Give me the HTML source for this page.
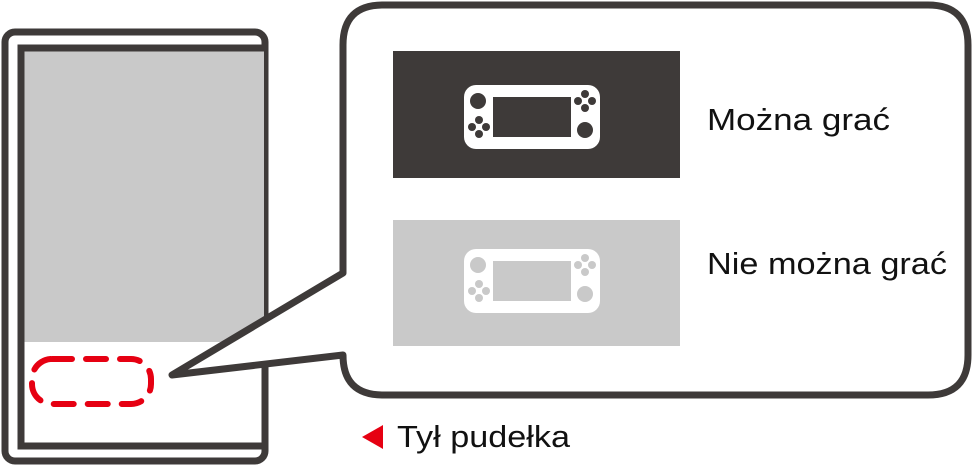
<!DOCTYPE html>
<html><head><meta charset="utf-8"><style>html,body{margin:0;padding:0;background:#fff}svg{display:block}</style></head>
<body>
<svg width="974" height="466" viewBox="0 0 974 466" xmlns="http://www.w3.org/2000/svg">
<rect x="5" y="32" width="260" height="429" rx="10" fill="#fff" stroke="#3e3a39" stroke-width="7"/>
<rect x="24" y="50" width="240" height="292" fill="#c9c9c9"/>
<path d="M264 48 H21 V446 H264" fill="none" stroke="#3e3a39" stroke-width="7"/>
<rect x="32" y="359" width="119" height="45" rx="20" fill="none" stroke="#e60012" stroke-width="6" stroke-dasharray="20,14" stroke-linecap="round"/>
<path d="M383 5 H928 Q968 5 968 45 V355 Q968 395 928 395 H383 Q343 395 343 355 V355 L172 375 L343 273 V45 Q343 5 383 5 Z" fill="#fff" stroke="#3e3a39" stroke-width="7" stroke-linejoin="round"/>
<rect x="393" y="51" width="287" height="127" fill="#3e3a39"/>
<g>
<rect x="464" y="85" width="136" height="64" rx="12" fill="#fff"/>
<rect x="493" y="97" width="78" height="40" fill="#3e3a39"/>
<circle cx="478" cy="101" r="8" fill="#3e3a39"/>
<circle cx="585" cy="130" r="8" fill="#3e3a39"/>
<g fill="#3e3a39"><circle cx="479" cy="120" r="4"/><circle cx="479" cy="134" r="4"/><circle cx="472" cy="127" r="4"/><circle cx="486" cy="127" r="4"/>
<circle cx="585" cy="94" r="4"/><circle cx="585" cy="108" r="4"/><circle cx="578" cy="101" r="4"/><circle cx="592" cy="101" r="4"/></g>
</g>
<rect x="393" y="220" width="287" height="126" fill="#c9c9c9"/>
<g transform="translate(0,164)">
<rect x="464" y="85" width="136" height="64" rx="12" fill="#fff"/>
<rect x="493" y="97" width="78" height="40" fill="#c9c9c9"/>
<circle cx="478" cy="101" r="8" fill="#c9c9c9"/>
<circle cx="585" cy="130" r="8" fill="#c9c9c9"/>
<g fill="#c9c9c9"><circle cx="479" cy="120" r="4"/><circle cx="479" cy="134" r="4"/><circle cx="472" cy="127" r="4"/><circle cx="486" cy="127" r="4"/>
<circle cx="585" cy="94" r="4"/><circle cx="585" cy="108" r="4"/><circle cx="578" cy="101" r="4"/><circle cx="592" cy="101" r="4"/></g>
</g>
<g font-family="Liberation Sans, sans-serif" fill="#111" font-size="31">
<text x="707" y="130" textLength="183" lengthAdjust="spacingAndGlyphs">Można grać</text>
<text x="707" y="274" textLength="240" lengthAdjust="spacingAndGlyphs">Nie można grać</text>
<text x="397" y="447" textLength="173" lengthAdjust="spacingAndGlyphs">Tył pudełka</text>
</g>
<polygon points="362,437 383,425 383,449" fill="#e60012"/>
</svg>
</body></html>
